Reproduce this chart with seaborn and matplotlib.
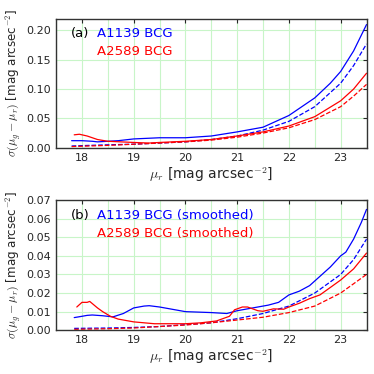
import numpy as np
import pandas as pd
import matplotlib
matplotlib.use('Agg')
import matplotlib.pyplot as plt
import seaborn as sns

# panel (a): raw scatter
a_mu_blue = [17.8, 18.0, 18.2, 18.3, 18.5, 18.7, 19.0, 19.5, 20.0, 20.5, 21.0, 21.5, 22.0, 22.5, 22.8, 23.0, 23.25, 23.5]
a_blue = [0.012, 0.012, 0.011, 0.010, 0.011, 0.012, 0.015, 0.017, 0.017, 0.020, 0.027, 0.035, 0.055, 0.085, 0.110, 0.130, 0.165, 0.210]
a_mu_blue_d = [17.8, 18.5, 19.0, 19.5, 20.0, 20.5, 21.0, 21.5, 22.0, 22.5, 23.0, 23.25, 23.5]
a_blue_d = [0.003, 0.005, 0.006, 0.008, 0.010, 0.014, 0.020, 0.030, 0.045, 0.070, 0.110, 0.140, 0.177]
a_mu_red = [17.85, 17.95, 18.1, 18.3, 18.5, 19.0, 19.3, 19.5, 20.0, 20.5, 21.0, 21.5, 22.0, 22.5, 23.0, 23.25, 23.5]
a_red = [0.022, 0.023, 0.020, 0.014, 0.011, 0.009, 0.008, 0.009, 0.011, 0.014, 0.020, 0.027, 0.037, 0.053, 0.080, 0.100, 0.127]
a_mu_red_d = [17.8, 18.5, 19.0, 19.5, 20.0, 20.5, 21.0, 21.5, 22.0, 22.5, 23.0, 23.25, 23.5]
a_red_d = [0.002, 0.004, 0.006, 0.008, 0.010, 0.013, 0.018, 0.025, 0.034, 0.048, 0.070, 0.088, 0.108]

# panel (b): smoothed
b_mu_blue = [17.85, 18.0, 18.1, 18.2, 18.4, 18.5, 18.6, 18.8, 19.0, 19.2, 19.3, 19.5, 19.8, 20.0, 20.5, 20.8,
             21.0, 21.3, 21.6, 21.8, 22.0, 22.2, 22.4, 22.6, 22.8, 23.0, 23.1, 23.25, 23.4, 23.5]
b_blue = [0.0068, 0.0075, 0.008, 0.0082, 0.0078, 0.0075, 0.0072, 0.009, 0.012, 0.013, 0.0132, 0.0125, 0.011, 0.010,
          0.0095, 0.009, 0.0105, 0.012, 0.0135, 0.015, 0.019, 0.021, 0.024, 0.029, 0.034, 0.040, 0.042, 0.049, 0.058, 0.065]
b_mu_blue_d = [17.85, 18.5, 19.0, 19.5, 20.0, 20.5, 21.0, 21.5, 22.0, 22.5, 23.0, 23.25, 23.5]
b_blue_d = [0.001, 0.0012, 0.0015, 0.002, 0.003, 0.004, 0.0062, 0.009, 0.013, 0.020, 0.030, 0.038, 0.049]
b_mu_red = [17.9, 18.0, 18.1, 18.15, 18.3, 18.4, 18.55, 18.7, 19.0, 19.4, 19.7, 20.0, 20.3, 20.6, 20.85, 20.95,
            21.1, 21.2, 21.4, 21.5, 21.7, 21.9, 22.0, 22.2, 22.4, 22.6, 22.8, 23.0, 23.25, 23.5]
b_red = [0.0125, 0.015, 0.015, 0.0155, 0.012, 0.010, 0.0075, 0.006, 0.0045, 0.0035, 0.0035, 0.0035, 0.004, 0.005,
         0.0075, 0.011, 0.0125, 0.0125, 0.0105, 0.0102, 0.0115, 0.0113, 0.0125, 0.0145, 0.017, 0.019, 0.023, 0.027, 0.033, 0.0415]
b_mu_red_d = [17.85, 18.5, 19.0, 19.5, 20.0, 20.5, 21.0, 21.5, 22.0, 22.5, 23.0, 23.25, 23.5]
b_red_d = [0.0005, 0.0008, 0.0012, 0.002, 0.0028, 0.004, 0.0055, 0.007, 0.0095, 0.013, 0.020, 0.025, 0.030]

sns.set_style('whitegrid', {'grid.color': '#c8f5c8', 'axes.edgecolor': '#333333',
                            'xtick.direction': 'in', 'ytick.direction': 'in'})
plt.rcParams['font.family'] = ['DejaVu Sans']
plt.rcParams['mathtext.fontset'] = 'cm'

fig = plt.figure(figsize=(3.74, 3.74), dpi=100)
ax1 = fig.add_axes([0.15, 0.605, 0.83, 0.345])
ax2 = fig.add_axes([0.15, 0.117, 0.83, 0.348])


def panel(ax, curves, ylim, yticks, tag, labels):
    for x, y, c, ls in curves:
        sns.lineplot(x=x, y=y, ax=ax, color=c, linestyle=ls, linewidth=0.9)
    ax.set_xlim(17.5, 23.5)
    ax.set_ylim(*ylim)
    ax.set_xticks([18, 19, 20, 21, 22, 23])
    ax.set_xticks(np.arange(17.5, 23.6, 0.5), minor=True)
    ax.set_yticks(yticks)
    ax.set_yticklabels(['%.2f' % v for v in yticks])
    ax.grid(True, which='both', axis='x', color='#c8f5c8', linewidth=0.8)
    ax.grid(True, which='major', axis='y', color='#c8f5c8', linewidth=0.8)
    ax.tick_params(labelsize=8, length=3, top=True, right=True, direction='in')
    ax.set_xlabel(r'$\mu_r$ [mag arcsec$^{-2}$]', fontsize=10, labelpad=2)
    ax.set_ylabel(r'$\sigma(\mu_g - \mu_r)$ [mag arcsec$^{-2}$]', fontsize=8.6, labelpad=2)
    for s in ax.spines.values():
        s.set_linewidth(1.0)
    ax.text(0.048, 0.885, tag, transform=ax.transAxes, fontsize=9.5, color='black', va='center')
    ax.text(0.132, 0.885, labels[0], transform=ax.transAxes, fontsize=9.5, color='blue', va='center')
    ax.text(0.132, 0.745, labels[1], transform=ax.transAxes, fontsize=9.5, color='red', va='center')


panel(ax1, [(a_mu_blue, a_blue, 'blue', '-'), (a_mu_blue_d, a_blue_d, 'blue', '--'),
            (a_mu_red, a_red, 'red', '-'), (a_mu_red_d, a_red_d, 'red', '--')],
      (0, 0.22), [0.0, 0.05, 0.10, 0.15, 0.20], '(a)', ['A1139 BCG', 'A2589 BCG'])
panel(ax2, [(b_mu_blue, b_blue, 'blue', '-'), (b_mu_blue_d, b_blue_d, 'blue', '--'),
            (b_mu_red, b_red, 'red', '-'), (b_mu_red_d, b_red_d, 'red', '--')],
      (0, 0.07), [0.0, 0.01, 0.02, 0.03, 0.04, 0.05, 0.06, 0.07], '(b)',
      ['A1139 BCG (smoothed)', 'A2589 BCG (smoothed)'])

fig.savefig('out.png', dpi=100)
